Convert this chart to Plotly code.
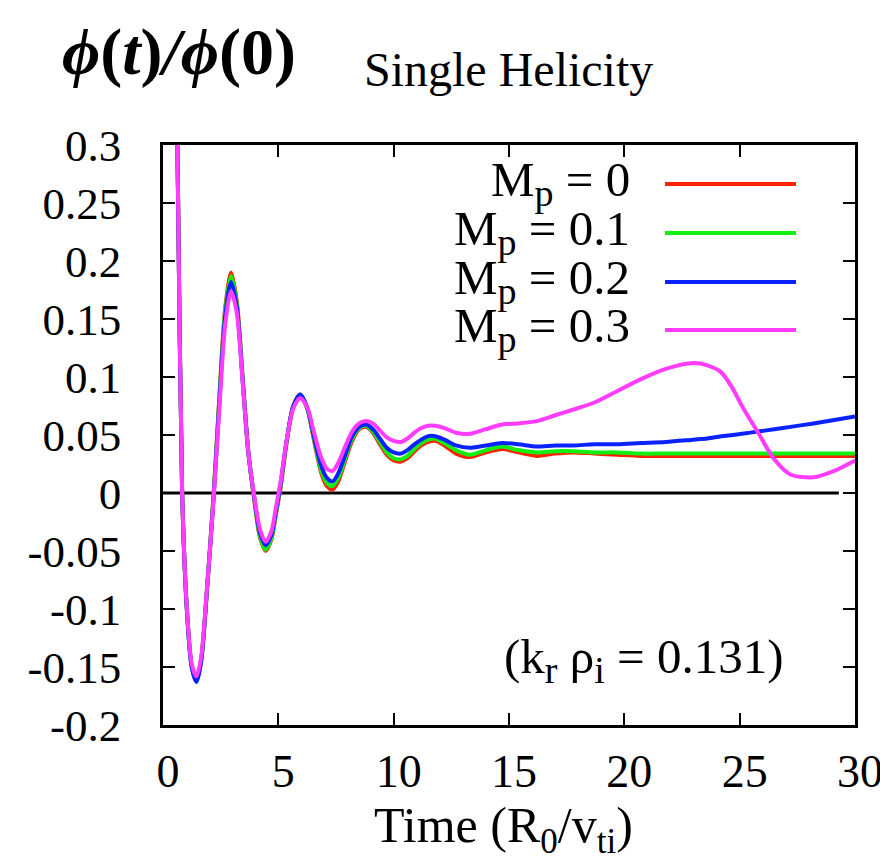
import plotly.graph_objects as go

# ---- data ----
time = [0, 0.3, 0.5, 0.65, 0.83, 1.05, 1.25, 1.45, 1.65, 1.9,
        2.2, 2.45, 2.7, 2.95, 3.2, 3.45, 3.7, 3.95, 4.2, 4.45,
        4.7, 4.9, 5.1, 5.35, 5.65, 5.95, 6.25, 6.55, 6.85, 7.1,
        7.35, 7.6, 7.9, 8.2, 8.5, 8.8, 9.1, 9.4, 9.7, 10.0,
        10.3, 10.6, 10.9, 11.2, 11.5, 11.8, 12.2, 12.7, 13.3, 14.0,
        14.7, 15.4, 16.2, 17.0, 17.8, 18.7, 19.7, 20.7, 21.8, 23.0,
        23.6, 24.2, 24.7, 25.1, 25.8, 26.5, 27.2, 28.2, 29.1, 30.0]

mp_0 = [1.00, 0.78, 0.47, 0.26, 0.00, -0.105, -0.150, -0.162, -0.145, -0.085,
        0.000, 0.085, 0.160, 0.190, 0.165, 0.100, 0.035, -0.005, -0.038, -0.050,
        -0.040, -0.018, 0.005, 0.042, 0.075, 0.085, 0.073, 0.045, 0.018, 0.006,
        0.003, 0.010, 0.028, 0.045, 0.055, 0.057, 0.052, 0.042, 0.033, 0.028,
        0.027, 0.030, 0.036, 0.041, 0.044, 0.045, 0.041, 0.034, 0.031, 0.035,
        0.038, 0.035, 0.032, 0.034, 0.035, 0.034, 0.033, 0.032, 0.032, 0.032,
        0.032, 0.032, 0.032, 0.032, 0.032, 0.032, 0.032, 0.032, 0.032, 0.032]

mp_01 = [1.00, 0.78, 0.47, 0.26, 0.00, -0.105, -0.150, -0.161, -0.144, -0.084,
         0.001, 0.084, 0.158, 0.187, 0.163, 0.099, 0.035, -0.004, -0.037, -0.049,
         -0.039, -0.017, 0.006, 0.043, 0.075, 0.085, 0.073, 0.046, 0.020, 0.009,
         0.006, 0.013, 0.030, 0.047, 0.056, 0.058, 0.053, 0.044, 0.035, 0.030,
         0.029, 0.032, 0.038, 0.043, 0.046, 0.047, 0.043, 0.037, 0.033, 0.037,
         0.040, 0.037, 0.035, 0.036, 0.036, 0.035, 0.035, 0.034, 0.034, 0.034,
         0.034, 0.034, 0.034, 0.034, 0.034, 0.034, 0.034, 0.034, 0.034, 0.034]

mp_02 = [1.00, 0.78, 0.47, 0.26, 0.00, -0.106, -0.151, -0.163, -0.146, -0.086,
         -0.002, 0.080, 0.153, 0.182, 0.160, 0.098, 0.035, -0.003, -0.034, -0.045,
         -0.036, -0.015, 0.008, 0.044, 0.075, 0.085, 0.074, 0.048, 0.024, 0.013,
         0.010, 0.017, 0.033, 0.049, 0.057, 0.059, 0.055, 0.047, 0.039, 0.035,
         0.034, 0.037, 0.042, 0.046, 0.049, 0.049, 0.046, 0.041, 0.039, 0.041,
         0.043, 0.042, 0.040, 0.041, 0.041, 0.042, 0.042, 0.043, 0.044, 0.046,
         0.047, 0.049, 0.050, 0.051, 0.053, 0.055, 0.057, 0.060, 0.063, 0.066]

mp_03 = [1.00, 0.78, 0.47, 0.26, 0.00, -0.104, -0.148, -0.158, -0.142, -0.084,
         -0.003, 0.075, 0.146, 0.174, 0.155, 0.096, 0.035, -0.002, -0.031, -0.042,
         -0.033, -0.012, 0.010, 0.044, 0.073, 0.082, 0.074, 0.052, 0.031, 0.021,
         0.019, 0.026, 0.040, 0.053, 0.060, 0.062, 0.060, 0.054, 0.048, 0.045,
         0.044, 0.047, 0.052, 0.056, 0.058, 0.058, 0.056, 0.052, 0.051, 0.055,
         0.059, 0.060, 0.062, 0.067, 0.072, 0.078, 0.088, 0.098, 0.107, 0.112,
         0.110, 0.104, 0.090, 0.075, 0.052, 0.029, 0.016, 0.0135, 0.019, 0.028]

zero_x = [0.0, 29.3]
zero_y = [0.0, 0.0]

SUB = "<sub><span style='font-size:38px'>{}</span></sub>"
series_labels = ["M" + SUB.format("p") + " = 0", "M" + SUB.format("p") + " = 0.1",
                 "M" + SUB.format("p") + " = 0.2", "M" + SUB.format("p") + " = 0.3"]
series_values = [mp_0, mp_01, mp_02, mp_03]
series_colors = ["#ff2200", "#11ee11", "#0a22ff", "#ff3cff"]

x_ticks = [0, 5, 10, 15, 20, 25, 30]
y_ticks = [0.3, 0.25, 0.2, 0.15, 0.1, 0.05, 0, -0.05, -0.1, -0.15, -0.2]
y_tick_text = ["0.3", "0.25", "0.2", "0.15", "0.1", "0.05", "0",
               "-0.05", "-0.1", "-0.15", "-0.2"]

FONT = "Liberation Serif"

fig = go.Figure()
fig.add_trace(go.Scatter(x=zero_x, y=zero_y, mode="lines",
                         line=dict(color="black", width=3),
                         showlegend=False, hoverinfo="skip"))
for lab, vals, col in zip(series_labels, series_values, series_colors):
    fig.add_trace(go.Scatter(x=time, y=vals, mode="lines", name=lab,
                             line=dict(color=col, width=4, shape="spline",
                                       smoothing=0.8),
                             showlegend=False))

L, R, T, B = 155, 847, 137, 717
W, H = R - L, B - T


def px(xp):
    return (xp - L) / W


def py(yp):
    return (B - yp) / H


legend_rows = [176, 225, 274, 322]
for lab, col, yr in zip(series_labels, series_colors, legend_rows):
    fig.add_shape(type="line", xref="paper", yref="paper",
                  x0=px(657), x1=px(788), y0=py(yr), y1=py(yr),
                  line=dict(color=col, width=4))
    fig.add_annotation(text=lab, xref="paper", yref="paper",
                       x=px(624), y=py(yr - 1), xanchor="right", yanchor="middle",
                       showarrow=False, font=dict(family=FONT, size=49, color="black"))

fig.add_annotation(text="(k" + SUB.format("r") + " ρ" + SUB.format("i") + " = 0.131)",
                   xref="paper", yref="paper",
                   x=px(635), y=py(652), xanchor="center", yanchor="middle",
                   showarrow=False, font=dict(family=FONT, size=49, color="black"))

fig.add_annotation(text="Single Helicity", xref="paper", yref="paper",
                   x=px(500), y=py(62), xanchor="center", yanchor="middle",
                   showarrow=False, font=dict(family=FONT, size=48, color="black"))

fig.add_annotation(text="<b><i>ϕ</i>(<i>t</i>)<i>/</i><i>ϕ</i>(0)</b>", xref="paper", yref="paper",
                   x=px(171), y=py(44), xanchor="center", yanchor="middle",
                   showarrow=False, font=dict(family=FONT, size=66, color="black"))

fig.add_annotation(text="Time (R<sub>0</sub>/v<sub>ti</sub>)", xref="paper", yref="paper",
                   x=px(495), y=py(821), xanchor="center", yanchor="middle",
                   showarrow=False, font=dict(family=FONT, size=50, color="black"))

fig.update_xaxes(range=[0, 30], tickvals=x_ticks, ticks="inside", ticklen=12,
                 tickwidth=2, tickcolor="black", showline=True, linecolor="black",
                 linewidth=2.5, mirror="ticks", showgrid=False, zeroline=False,
                 tickfont=dict(family=FONT, size=46, color="black"),
                 ticklabelstandoff=4, ticklabelshift=5)
fig.update_yaxes(range=[-0.2, 0.3], tickvals=y_ticks, ticktext=y_tick_text,
                 ticks="inside", ticklen=12, tickwidth=2, tickcolor="black",
                 showline=True, linecolor="black", linewidth=2.5, mirror="ticks",
                 showgrid=False, zeroline=False,
                 tickfont=dict(family=FONT, size=45, color="black"),
                 ticklabelstandoff=30)

fig.update_layout(width=888, height=865, plot_bgcolor="white", paper_bgcolor="white",
                  margin=dict(l=L, r=888 - R, t=T, b=865 - B),
                  font=dict(family=FONT),
                  showlegend=False)

fig.write_html("out.html")
